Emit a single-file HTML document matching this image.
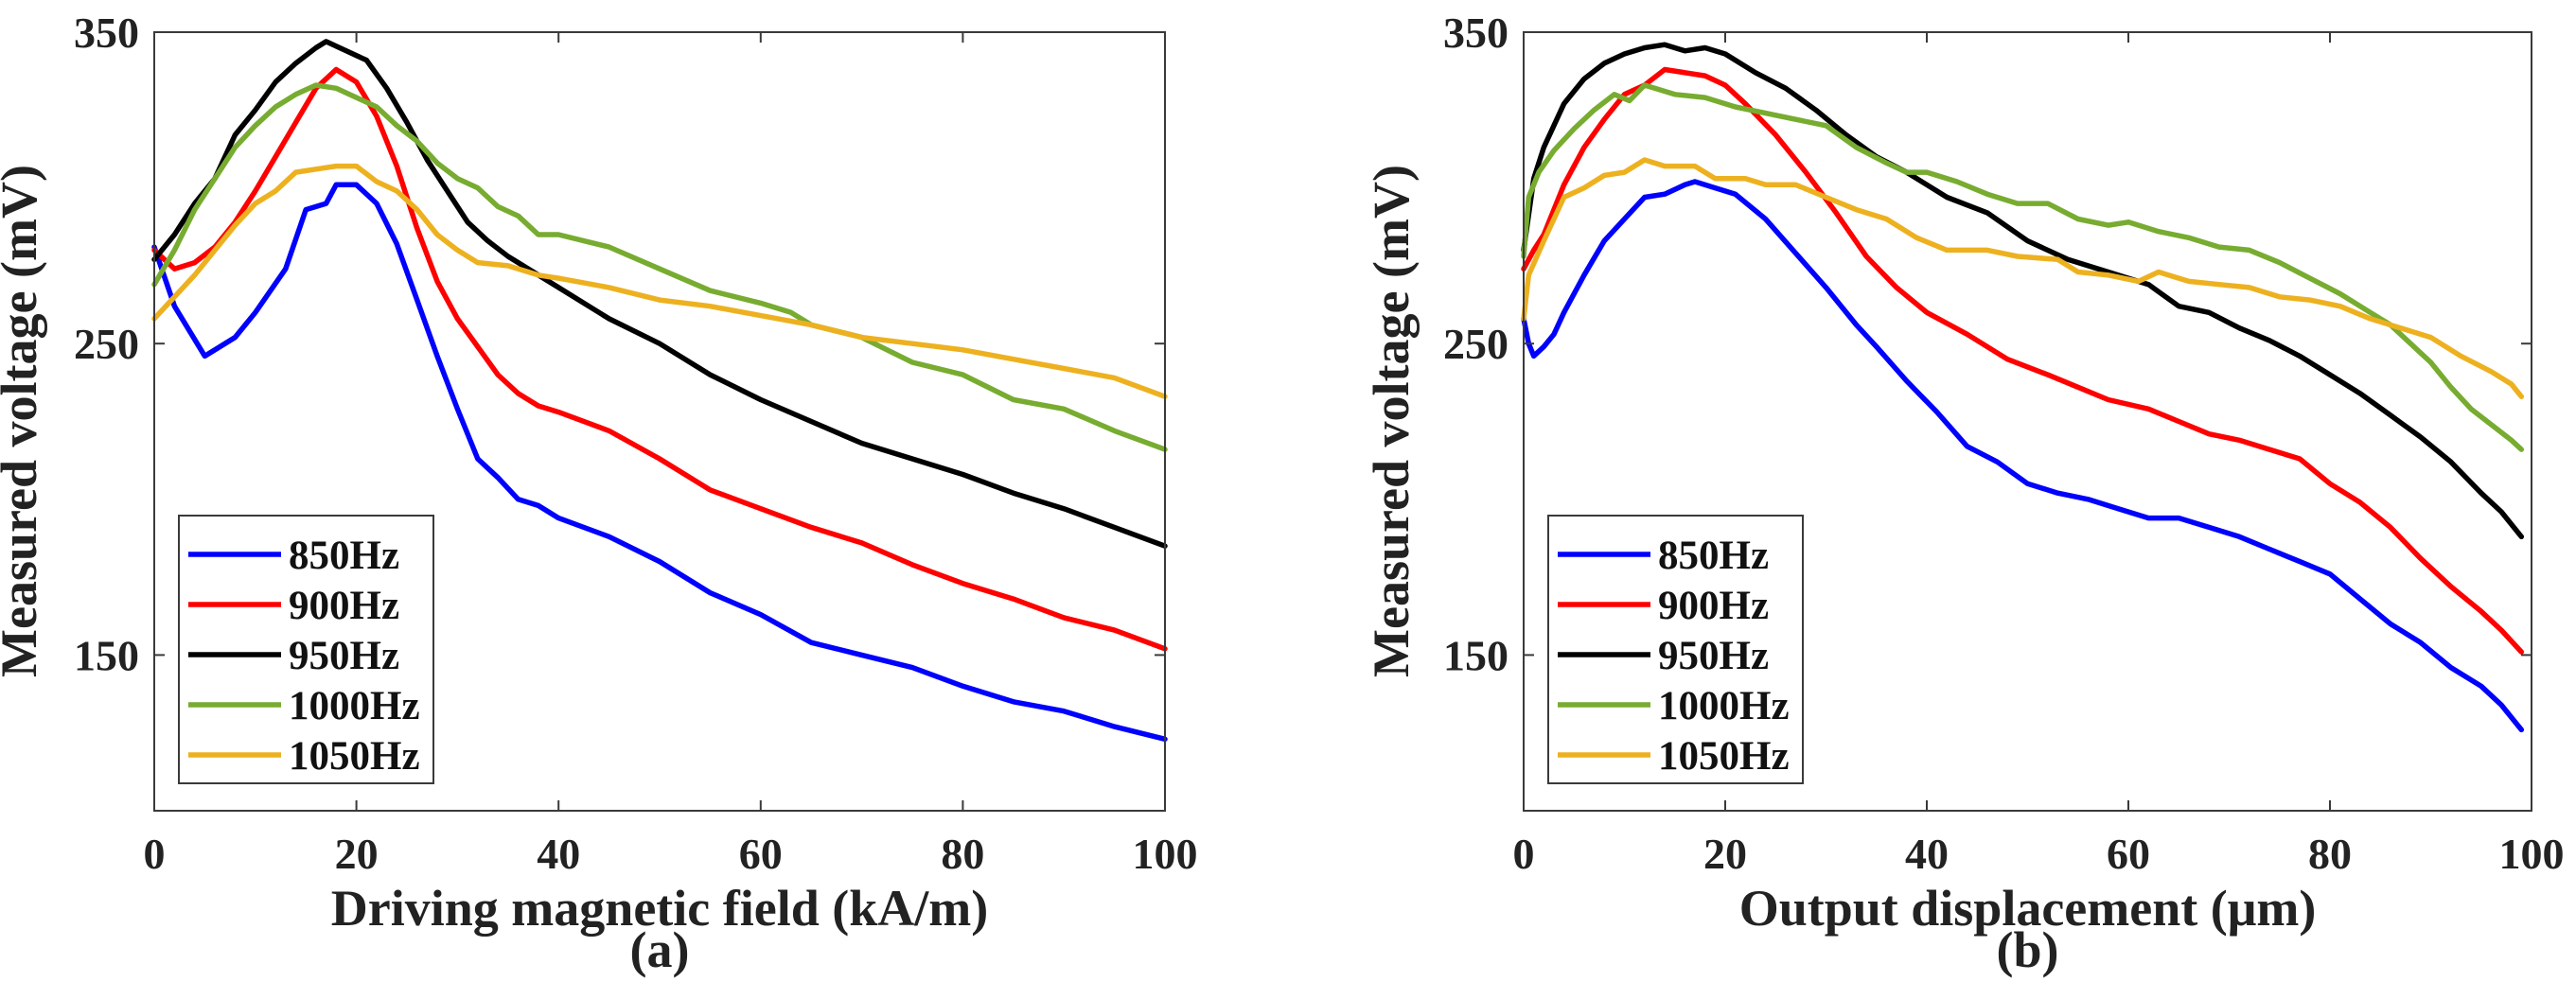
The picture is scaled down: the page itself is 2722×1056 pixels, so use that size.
<!DOCTYPE html>
<html><head><meta charset="utf-8"><style>
html,body{margin:0;padding:0;background:#fff;}
svg{display:block;font-family:"Liberation Serif","Times New Roman",serif;font-weight:bold;}
</style></head><body>
<svg id="fig" width="2722" height="1056" viewBox="0 0 2722 1056"></svg>
<script>
const xTicks=[0,20,40,60,80,100];
const yTicks=[150,250,350];
const seriesNames=['850Hz','900Hz','950Hz','1000Hz','1050Hz'];
const seriesColors=['#0000ff','#ff0000','#000000','#77ac30','#edb120'];
// Panel (a)
const aX850=[0,2,5,8,10,13,15,17,18,20,22,24,26,28,30,32,34,36,38,40,45,50,55,60,65,70,75,80,85,90,95,100];
const aY850=[281,262,246,252,260,274,293,295,301,301,295,282,264,246,229,213,207,200,198,194,188,180,170,163,154,150,146,140,135,132,127,123];
const aX900=[0,2,4,6,8,10,12,14,16,18,20,22,24,26,28,30,32,34,36,38,40,45,50,55,60,65,70,75,80,85,90,95,100];
const aY900=[280,274,276,281,289,299,310,321,332,338,334,323,307,287,270,258,249,240,234,230,228,222,213,203,197,191,186,179,173,168,162,158,152];
const aX950=[0,2,4,6,8,10,12,14,16,17,19,21,23,25,27,29,31,33,35,40,45,50,55,60,65,70,75,80,85,90,95,100];
const aY950=[277,285,295,303,317,325,334,340,345,347,344,341,332,321,309,299,289,283,278,268,258,250,240,232,225,218,213,208,202,197,191,185];
const aX1000=[0,2,4,6,8,10,12,14,16,18,20,22,24,26,28,30,32,34,36,38,40,45,50,55,60,63,65,70,75,80,85,90,95,100];
const aY1000=[269,280,293,303,313,320,326,330,333,332,329,326,320,315,308,303,300,294,291,285,285,281,274,267,263,260,256,252,244,240,232,229,222,216];
const aX1050=[0,2,4,6,8,10,12,14,16,18,20,22,24,26,28,30,32,35,38,40,45,50,55,60,65,70,75,80,85,90,95,100];
const aY1050=[258,265,272,280,288,295,299,305,306,307,307,302,299,293,285,280,276,275,272,271,268,264,262,259,256,252,250,248,245,242,239,233];
// Panel (b)
const bX850=[0,0.5,1,2,3,4,6,8,10,12,14,16,17,19,21,24,27,30,33,35,38,41,44,47,50,53,56,59,62,65,68,71,74,77,80,83,86,89,92,95,97,99];
const bY850=[258,250,246,249,253,260,272,283,290,297,298,301,302,300,298,290,279,268,256,249,238,228,217,212,205,202,200,197,194,194,191,188,184,180,176,168,160,154,146,140,134,126];
const bX900=[0,1,2,4,6,8,10,12,14,16,18,20,22,25,28,31,34,37,40,44,48,52,55,58,62,65,68,71,74,77,80,83,86,89,92,95,97,99];
const bY900=[274,280,285,301,313,322,330,333,338,337,336,333,327,317,305,292,278,268,260,253,245,240,236,232,229,225,221,219,216,213,205,199,191,181,172,164,158,151];
const bX950=[0,1,2,4,6,8,10,12,14,16,18,20,23,26,29,32,35,38,42,46,50,54,58,62,65,68,71,74,77,80,83,86,89,92,95,97,99];
const bY950=[280,303,313,327,335,340,343,345,346,344,345,343,337,332,325,317,310,305,297,292,283,277,273,269,262,260,255,251,246,240,234,227,220,212,202,196,188];
const bX1000=[0,0.5,1.5,3,5,7,9,10.5,12,15,18,21,24,27,30,33,36,38,40,43,46,49,52,55,58,60,63,66,69,72,75,78,81,84,86,88,90,92,94,96,98,99];
const bY1000=[278,297,305,312,319,325,330,328,333,330,329,326,324,322,320,313,308,305,305,302,298,295,295,290,288,289,286,284,281,280,276,271,266,260,256,250,244,236,229,224,219,216];
const bX1050=[0,0.5,2,4,6,8,10,12,14,17,19,22,24,27,30,33,36,39,42,46,49,53,55,58,61,63,66,69,72,75,78,81,84,87,90,93,96,98,99];
const bY1050=[258,272,283,297,300,304,305,309,307,307,303,303,301,301,297,293,290,284,280,280,278,277,273,272,270,273,270,269,268,265,264,262,258,255,252,246,241,237,233];

const NS='http://www.w3.org/2000/svg';
const svg=document.getElementById('fig');
function mk(tag,attrs,parent){const e=document.createElementNS(NS,tag);for(const k in attrs)e.setAttribute(k,attrs[k]);(parent||svg).appendChild(e);return e;}

function panel(id,L,R,T,B,xs,ys,xTitle,tag,legL,yTitleX){
  const g=mk('g',{});
  
  
  const xS=v=>L+(v-0)/(100-0)*(R-L);
  const yS=v=>B-(v-100)/(350-100)*(B-T);
  for(let s=0;s<5;s++){
    const d=xs[s].map((x,i)=>(i?'L':'M')+xS(x).toFixed(1)+' '+yS(ys[s][i]).toFixed(1)).join(' ');
    const p=mk('path',{d:d,fill:'none',stroke:seriesColors[s],'stroke-width':5.5,'stroke-linejoin':'round','stroke-linecap':'round'},g);
    
    
  }
  const box=mk('rect',{x:L,y:T,width:R-L,height:B-T,fill:'none',stroke:'#3a3a3a','stroke-width':2},g);
  
  
  xTicks.forEach(v=>{
    const x=xS(v);
    mk('line',{x1:x,y1:B,x2:x,y2:B-11,stroke:'#3a3a3a','stroke-width':2},g);
    mk('line',{x1:x,y1:T,x2:x,y2:T+11,stroke:'#3a3a3a','stroke-width':2},g);
    const t=mk('text',{x:x,y:918,'font-size':46,'text-anchor':'middle',fill:'#222'},g);
    t.textContent=v;
    
    
  });
  yTicks.forEach(v=>{
    const y=yS(v);
    mk('line',{x1:L,y1:y,x2:L+11,y2:y,stroke:'#3a3a3a','stroke-width':2},g);
    mk('line',{x1:R,y1:y,x2:R-11,y2:y,stroke:'#3a3a3a','stroke-width':2},g);
    const t=mk('text',{x:L-16,y:y+16,'font-size':46,'text-anchor':'end',fill:'#222'},g);
    t.textContent=v;
    
    
  });
  const xt=mk('text',{x:(L+R)/2,y:978,'font-size':54,'text-anchor':'middle',fill:'#222'},g);
  xt.textContent=xTitle;
  
  
  const pt=mk('text',{x:(L+R)/2,y:1022,'font-size':54,'text-anchor':'middle',fill:'#222'},g);
  pt.textContent=tag;
  
  
  const yt=mk('text',{x:yTitleX,y:445,'font-size':54,'text-anchor':'middle',fill:'#222',transform:'rotate(-90 '+yTitleX+' 445)'},g);
  yt.textContent='Measured voltage (mV)';
  
  
  const lg=mk('g',{},g);
  
  
  mk('rect',{x:legL,y:545,width:269,height:283,fill:'#fff',stroke:'#3a3a3a','stroke-width':2},lg);
  for(let s=0;s<5;s++){
    const cy=586+s*53;
    const e=mk('g',{},lg);
    
    
    mk('line',{x1:legL+10,y1:cy,x2:legL+108,y2:cy,stroke:seriesColors[s],'stroke-width':5.5},e);
    const t=mk('text',{x:legL+116,y:cy+15,'font-size':43,fill:'#111'},e);
    t.textContent=seriesNames[s];
  }
}
panel('panel-a',163,1231,34,857,[aX850,aX900,aX950,aX1000,aX1050],[aY850,aY900,aY950,aY1000,aY1050],'Driving magnetic field (kA/m)','(a)',189,38);
panel('panel-b',1610,2675,34,857,[bX850,bX900,bX950,bX1000,bX1050],[bY850,bY900,bY950,bY1000,bY1050],'Output displacement (μm)','(b)',1636,1488);
</script>
</body></html>
